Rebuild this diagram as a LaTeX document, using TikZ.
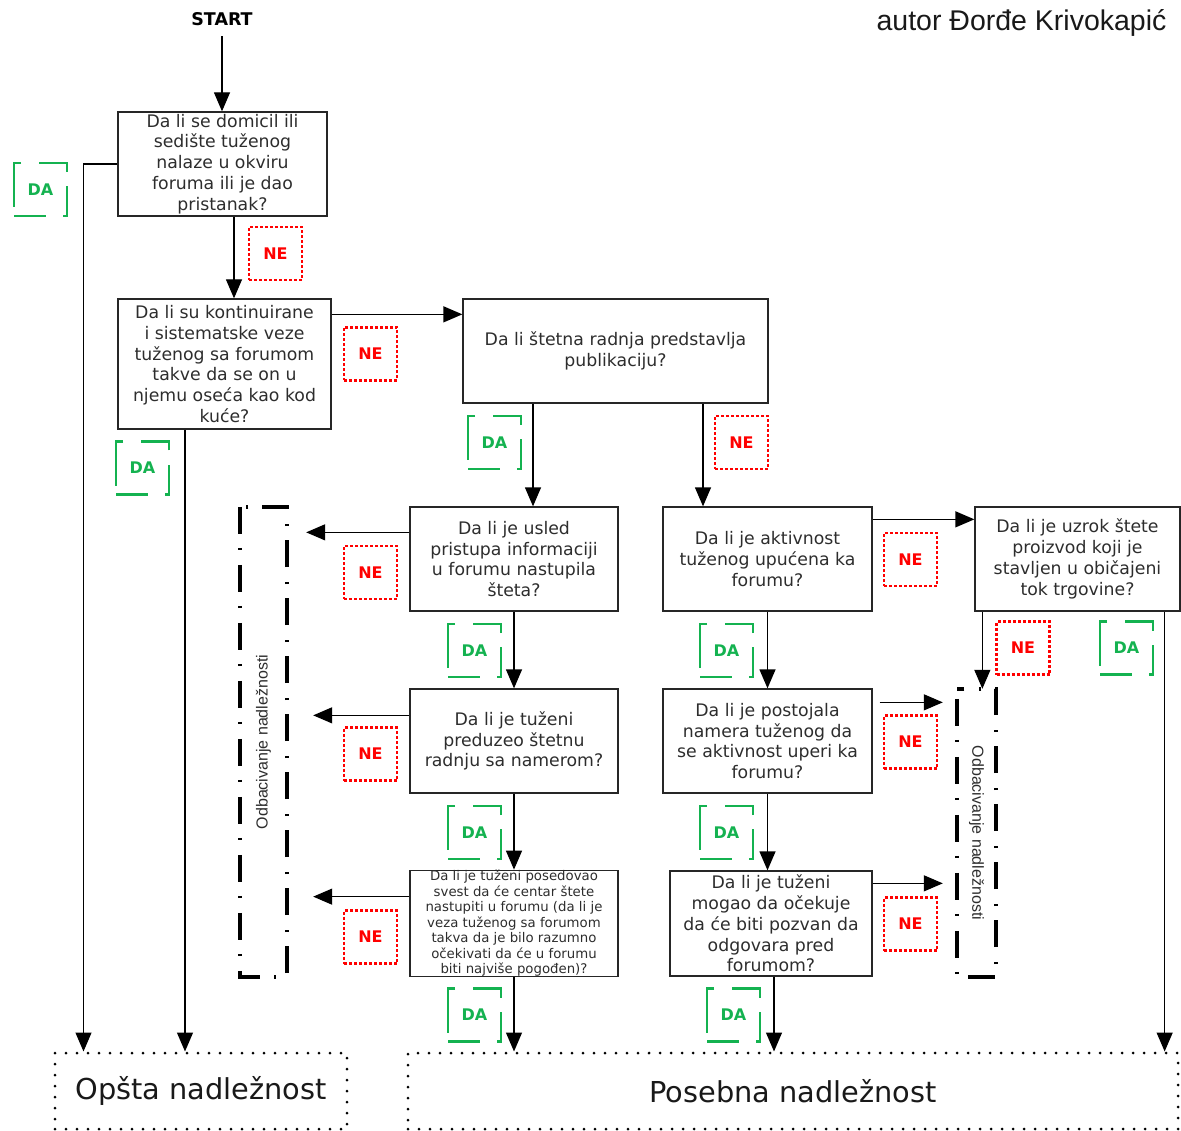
\documentclass[tikz,border=0pt]{standalone}
\usepackage{fontspec}
\setmainfont{DejaVu Sans}
\newfontfamily\arialf{Liberation Sans}
\usetikzlibrary{arrows.meta,calc}
\definecolor{dagreen}{RGB}{20,178,80}
\definecolor{nered}{RGB}{255,0,0}
\definecolor{txtgray}{RGB}{45,45,45}
\begin{document}
\begin{tikzpicture}[x=1pt,y=-1pt,
  qbox/.style={draw=black!85, line width=1.3pt, inner sep=0pt, align=center, text=txtgray,
    font=\fontsize{17.3}{20.8}\selectfont},
  smallq/.style={qbox, font=\fontsize{13.3}{15.5}\selectfont},
  arr/.style={line width=1.3pt, -{Triangle[length=19pt,width=16pt]}},
  lblfont/.style={font=\bfseries\fontsize{16}{18}\selectfont},
  dalbl/.style={lblfont, draw=dagreen, text=dagreen, line width=2.2pt, minimum width=53pt,
    minimum height=53pt, inner sep=0pt,
    dash pattern=on 32pt off 17pt on 34pt off 14pt on 37pt off 18pt on 51pt off 11pt},
  nelbl/.style={lblfont, draw=nered, text=nered, line width=2.2pt, minimum width=53pt,
    minimum height=53pt, inner sep=0pt, dash pattern=on 3pt off 2pt},
  outbox/.style={draw, line width=3pt, dash pattern=on 0pt off 11pt, line cap=round,
    inner sep=0pt, font=\fontsize{28.8}{32}\selectfont, text=black!90},
  rejbox/.style={line width=3.5pt, dash pattern=on 27pt off 14pt on 2pt off 15pt},
  rejarea/.style={inner sep=0pt, text=txtgray, font=\arialf\fontsize{16}{18}\selectfont},
]
\useasboundingbox (0,0) rectangle (1181,1131);

% title and author
\node[font=\bfseries\fontsize{17.5}{20}\selectfont] (start) at (222,19) {START};
\node[anchor=east, font=\arialf\fontsize{28.5}{32}\selectfont, text=black!90] (author) at (1170,23) {autor Đorđe Krivokapić};

% question boxes
\node[qbox, minimum width=209pt, minimum height=104pt] (b1) at (222.5,164)
  {Da li se domicil ili\\sedište tuženog\\nalaze u okviru\\foruma ili je dao\\pristanak?};
\node[qbox, minimum width=213pt, minimum height=130pt] (b2) at (224.5,364)
  {Da li su kontinuirane\\i sistematske veze\\tuženog sa forumom\\takve da se on u\\njemu oseća kao kod\\kuće?};
\node[qbox, minimum width=305pt, minimum height=104pt] (b3) at (615.5,351)
  {Da li štetna radnja predstavlja\\publikaciju?};
\node[qbox, minimum width=208pt, minimum height=104pt] (b4) at (514,559)
  {Da li je usled\\pristupa informaciji\\u forumu nastupila\\šteta?};
\node[qbox, minimum width=208pt, minimum height=104pt] (b5) at (514,741)
  {Da li je tuženi\\preduzeo štetnu\\radnju sa namerom?};
\node[smallq, minimum width=208pt, minimum height=105pt] (b6) at (514,923.5)
  {Da li je tuženi posedovao\\svest da će centar štete\\nastupiti u forumu (da li je\\veza tuženog sa forumom\\takva da je bilo razumno\\očekivati da  će u forumu\\biti najviše pogođen)?};
\node[qbox, minimum width=209pt, minimum height=104pt] (b7) at (767.5,559)
  {Da li je aktivnost\\tuženog upućena ka\\forumu?};
\node[qbox, minimum width=205pt, minimum height=104pt] (b8) at (1077.5,559)
  {Da li je uzrok štete\\proizvod koji je\\stavljen u običajeni\\tok trgovine?};
\node[qbox, minimum width=209pt, minimum height=104pt] (b9) at (767.5,741)
  {Da li je postojala\\namera tuženog da\\se aktivnost uperi ka\\forumu?};
\node[qbox, minimum width=202pt, minimum height=105pt] (b10) at (771,923.5)
  {Da li je tuženi\\mogao da očekuje\\da će biti pozvan da\\odgovara pred\\forumom?};

% outcome boxes
\node[outbox, minimum width=292pt, minimum height=76pt] (gen) at (201,1091) {Opšta nadležnost};
\node[outbox, minimum width=770pt, minimum height=76pt] (spec) at (793,1091) {Posebna nadležnost};

% rejection areas
\node[rejarea, minimum width=47pt, minimum height=470pt] (rejL) at (263.5,742)
  {\rotatebox{90}{Odbacivanje nadležnosti}};
\node[rejarea, minimum width=39pt, minimum height=288pt] (rejR) at (976.5,833)
  {\rotatebox{-90}{Odbacivanje nadležnosti}};
\draw[rejbox] (rejL.north west) rectangle (rejL.south east);
\draw[rejbox, dash phase=48pt] (rejR.north west) rectangle (rejR.south east);

% connectors
\draw[arr, shorten <=7pt] (start.south) -- (start.south |- b1.north);
\draw[arr] (b1.west) -| ($(gen.north west)+(30,0)$);
\coordinate (p12) at ($(b1.south)+(11.5,0)$);
\draw[arr] (p12) -- (p12 |- b2.north);
\draw[arr] ([yshift=-16pt]b2.north east) -- ([yshift=-16pt]b3.north west);
\draw[arr] ([xshift=-39.5pt]b2.south) -- ([xshift=-16pt]gen.north);
\draw[arr] ([xshift=-82.5pt]b3.south) -- ([xshift=19pt]b4.north);
\draw[arr] ([xshift=87.5pt]b3.south) -- ([xshift=-64.5pt]b7.north);
\draw[arr] (b4) -- (b5);
\draw[arr] (b5) -- (b6);
\draw[arr] (b6.south) -- (b6.south |- spec.north);
\coordinate (n4) at ([yshift=-26pt]b4.north west);
\draw[arr, shorten >=19pt] (n4) -- (n4 -| rejL.east);
\coordinate (n5) at ([yshift=-27pt]b5.north west);
\draw[arr, shorten >=26pt] (n5) -- (n5 -| rejL.east);
\coordinate (n6) at ([yshift=-27pt]b6.north west);
\draw[arr, shorten >=26pt] (n6) -- (n6 -| rejL.east);
\draw[arr] ([yshift=-13pt]b7.north east) -- ([yshift=-13pt]b8.north west);
\draw[arr] (b7) -- (b9);
\draw[arr] (b9.south) -- (b9.south |- b10.north);
\coordinate (d10) at ([xshift=3pt]b10.south);
\draw[arr] (d10) -- (d10 |- spec.north);
\coordinate (n9) at ([yshift=-14pt]b9.north east);
\draw[arr, shorten <=7pt, shorten >=14pt] (n9) -- (n9 -| rejR.west);
\coordinate (n10) at ([yshift=-13pt]b10.north east);
\draw[arr, shorten >=14pt] (n10) -- (n10 -| rejR.west);
\coordinate (n8) at ([xshift=8pt]b8.south west);
\draw[arr] (n8) -- (n8 |- rejR.north);
\coordinate (d8) at ([xshift=-16pt]b8.south east);
\draw[arr] (d8) -- (d8 |- spec.north);

% answer labels
\node[dalbl] (da1) at (40.5,189.5) {DA};
\node[nelbl] (ne1) at (275.5,253.5) {NE};
\node[nelbl] (ne2) at (370.5,354) {NE};
\node[dalbl] (da2) at (142.5,468) {DA};
\node[dalbl] (da3) at (494.5,442.5) {DA};
\node[nelbl] (ne3) at (741.5,442.5) {NE};
\node[nelbl] (ne4) at (370.5,572.5) {NE};
\node[dalbl] (da4) at (474.5,650.5) {DA};
\node[nelbl] (ne5) at (370.5,754) {NE};
\node[dalbl] (da5) at (474.5,832.5) {DA};
\node[nelbl] (ne6) at (370.5,937) {NE};
\node[dalbl] (da6) at (474.5,1015) {DA};
\node[nelbl] (ne7) at (910.5,559.5) {NE};
\node[dalbl] (da7) at (726.5,650.5) {DA};
\node[nelbl] (ne8) at (1023,648) {NE};
\node[dalbl] (da8) at (1126.5,648) {DA};
\node[nelbl] (ne9) at (910.5,742) {NE};
\node[dalbl] (da9) at (726.5,832.5) {DA};
\node[nelbl] (ne10) at (910.5,924) {NE};
\node[dalbl] (da10) at (733.5,1015) {DA};
\end{tikzpicture}
\end{document}
